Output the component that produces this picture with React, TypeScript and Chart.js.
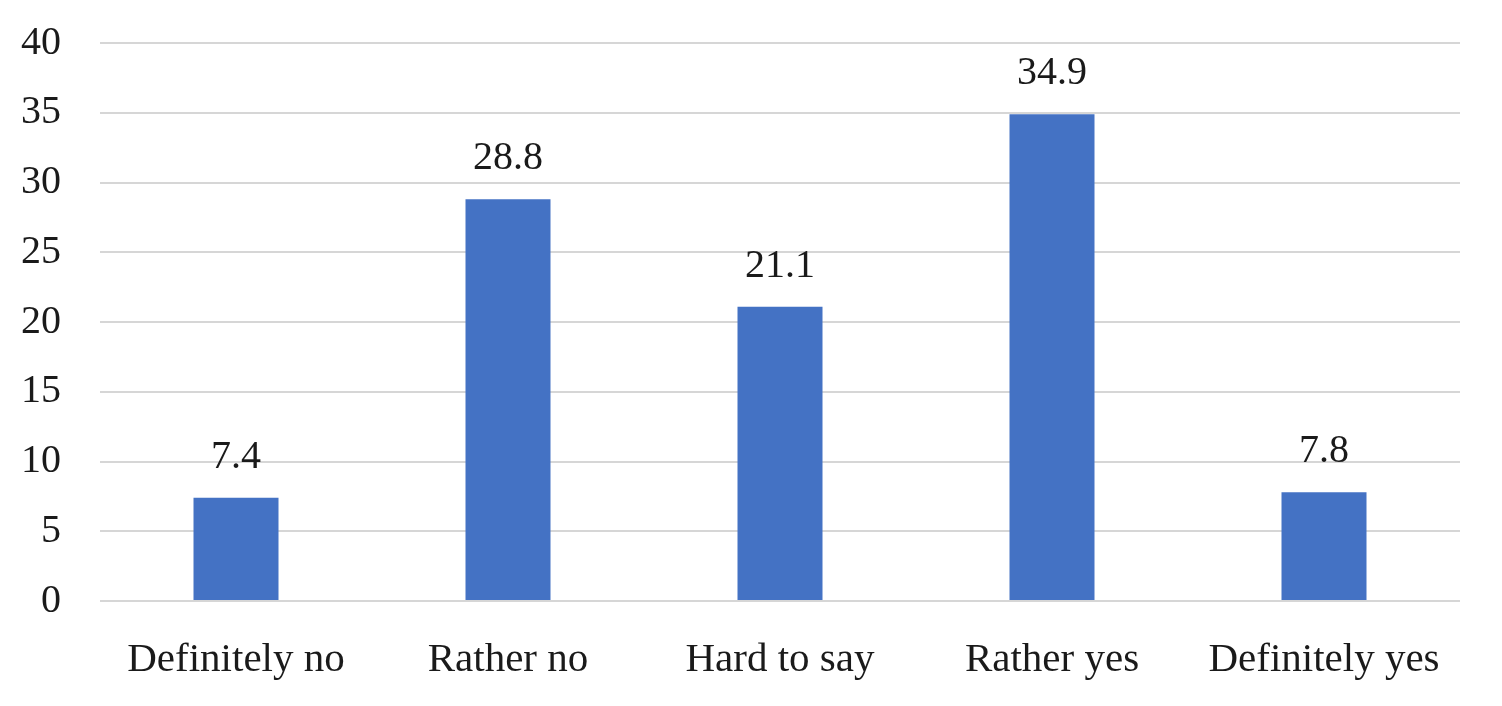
import React, { useEffect, useRef } from "react";
import { Chart, registerables } from "chart.js";

Chart.register(...registerables);

const categories = ["Definitely no", "Rather no", "Hard to say", "Rather yes", "Definitely yes"];
const values = [7.4, 28.8, 21.1, 34.9, 7.8];
const yMin = 0;
const yMax = 40;
const yStep = 5;

const FONT = "'Liberation Serif', 'Times New Roman', serif";

const valueLabels = {
  id: "valueLabels",
  afterDatasetsDraw(chart: any) {
    const ctx = chart.ctx;
    const meta = chart.getDatasetMeta(0);
    ctx.save();
    ctx.font = `40px ${FONT}`;
    ctx.fillStyle = "#1a1a1a";
    ctx.textAlign = "center";
    ctx.textBaseline = "alphabetic";
    meta.data.forEach((el: any, i: number) => {
      ctx.fillText(values[i].toFixed(1), el.x, el.y - 30);
    });
    ctx.restore();
  },
};

export default function App() {
  const ref = useRef<HTMLCanvasElement | null>(null);
  useEffect(() => {
    if (!ref.current) return;
    const chart = new Chart(ref.current, {
      type: "bar",
      data: {
        labels: categories,
        datasets: [
          {
            data: values,
            backgroundColor: "#4472C4",
            borderWidth: 0,
            barPercentage: 0.3125,
            categoryPercentage: 1,
          },
        ],
      },
      options: {
        animation: false,
        responsive: true,
        maintainAspectRatio: false,
        layout: { padding: { top: 35, right: 34, left: 0, bottom: 0 } },
        plugins: { legend: { display: false }, tooltip: { enabled: false } },
        scales: {
          x: {
            grid: { display: false, drawTicks: false },
            border: { display: false },
            ticks: {
              color: "#1a1a1a",
              font: { family: FONT, size: 41 },
              padding: 35,
              maxRotation: 0,
              autoSkip: false,
            },
            afterFit(scale: any) {
              scale.height = 97;
            },
          },
          y: {
            min: yMin,
            max: yMax,
            grid: { color: "#d6d6d6", lineWidth: 2, drawTicks: false },
            border: { display: false },
            ticks: {
              stepSize: yStep,
              color: "#1a1a1a",
              font: { family: FONT, size: 40 },
              padding: 39,
            },
            afterFit(scale: any) {
              scale.width = 92;
              scale.paddingTop = 0;
              scale.paddingBottom = 0;
            },
          },
        },
      },
      plugins: [valueLabels],
    });
    return () => chart.destroy();
  }, []);
  return (
    <div style={{ width: 1486, height: 690, position: "relative" }}>
      <canvas ref={ref} />
    </div>
  );
}
